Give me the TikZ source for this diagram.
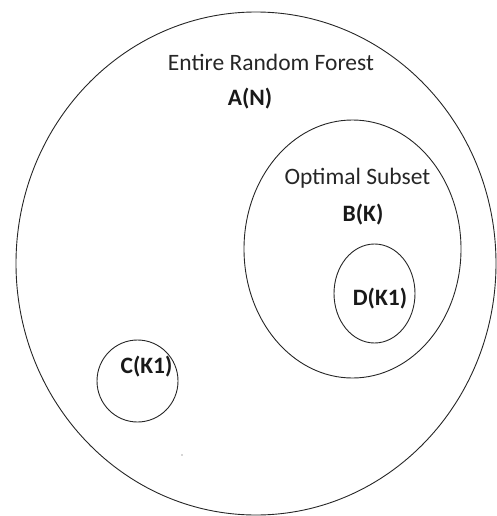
\documentclass[tikz,border=0pt]{standalone}
\usepackage{fontspec}
\setmainfont{Carlito}
\begin{document}
\begin{tikzpicture}[x=1pt,y=-1pt,
  setline/.style={draw=black!85,line width=0.9pt},
  plainlabel/.style={inner sep=0pt,text=black!85,font=\fontsize{23.5}{26}\selectfont},
  boldlabel/.style={inner sep=0pt,text=black!90,font=\fontsize{23.5}{26}\selectfont\bfseries}]
\useasboundingbox (0,0) rectangle (497,516);
% sets as ellipses
\draw[setline] (256,263.5) ellipse [x radius=240, y radius=251.5];
\draw[setline] (352.5,249) ellipse [x radius=108.5, y radius=129];
\draw[setline] (374.5,293.5) ellipse [x radius=40.5, y radius=49.5];
\draw[setline] (137.5,381) ellipse [x radius=40.5, y radius=41];
% labels
\node[plainlabel] (tA) at (271,62) {Entire Random Forest};
\node[boldlabel]  (lA) at (250,99) {A(N)};
\node[plainlabel] (tB) at (357.5,178) {Optimal Subset};
\node[boldlabel]  (lB) at (363,215) {B(K)};
\node[boldlabel]  (lD) at (380,299) {D(K1)};
\node[boldlabel]  (lC) at (146.5,367) {C(K1)};
\fill[black!70] (182,455) circle (0.7);
\end{tikzpicture}
\end{document}
